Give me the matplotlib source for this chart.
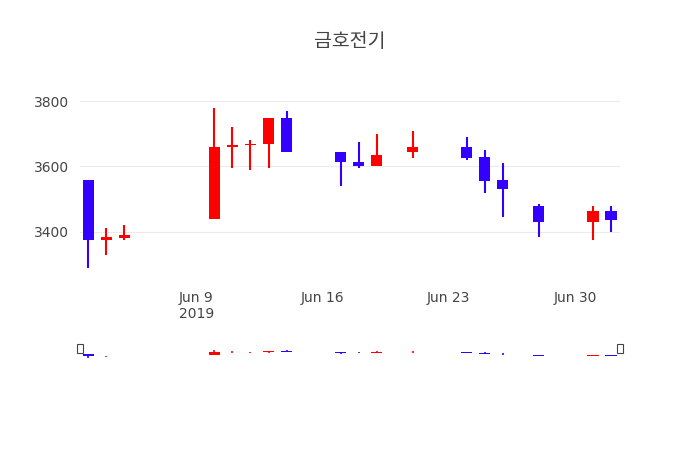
import matplotlib
matplotlib.use("Agg")
import matplotlib.pyplot as plt
import matplotlib.dates as mdates
import pandas as pd

dates = ["2019-06-03","2019-06-04","2019-06-05","2019-06-10","2019-06-11","2019-06-12",
         "2019-06-13","2019-06-14","2019-06-17","2019-06-18","2019-06-19","2019-06-21",
         "2019-06-24","2019-06-25","2019-06-26","2019-06-28","2019-07-01","2019-07-02"]
opens  = [3560,3375,3380,3440,3660,3665,3670,3750,3645,3615,3600,3645,3660,3630,3560,3480,3430,3465]
highs  = [3560,3410,3420,3780,3720,3680,3750,3770,3645,3675,3700,3710,3690,3650,3610,3485,3480,3480]
lows   = [3290,3330,3375,3440,3595,3590,3595,3645,3540,3595,3600,3625,3620,3520,3445,3385,3375,3400]
closes = [3375,3385,3390,3660,3665,3670,3750,3645,3615,3600,3635,3660,3625,3555,3530,3430,3465,3435]
title = "금호전기"
yticks = [3400, 3600, 3800]

UP, DOWN = "#ff0000", "#3300ff"
d = mdates.date2num(pd.to_datetime(dates))

fig = plt.figure(figsize=(7, 4.5), dpi=100)
ax = fig.add_axes([80/700, 170/450, 540/700, 200/450])
sl = fig.add_axes([80/700, 77/450, 540/700, 40/450])

def draw(a, wick_lw, body_w):
    for x, o, h, l, c in zip(d, opens, highs, lows, closes):
        col = UP if c >= o else DOWN
        a.vlines(x, l, h, color=col, lw=wick_lw, zorder=3)
        lo, hi = min(o, c), max(o, c)
        a.bar(x, max(hi - lo, 2), bottom=lo, width=body_w, color=col, zorder=3)

draw(ax, 1.5, 0.62)
draw(sl, 1.2, 0.62)

xmin = mdates.date2num(pd.Timestamp("2019-06-02 13:00"))
xmax = mdates.date2num(pd.Timestamp("2019-07-02 12:00"))
for a in (ax, sl):
    a.set_xlim(xmin, xmax)
    for s in a.spines.values():
        s.set_visible(False)

ax.set_ylim(3252, 3865)
ax.set_yticks(yticks)
ax.set_yticklabels([str(v) for v in yticks])
ticks = pd.to_datetime(["2019-06-09", "2019-06-16", "2019-06-23", "2019-06-30"])
ax.set_xticks(mdates.date2num(ticks))
ax.set_xticklabels(["Jun 9\n2019", "Jun 16", "Jun 23", "Jun 30"])
ax.grid(axis="y", color="#ebebeb", lw=0.8, zorder=0)
ax.tick_params(length=0, labelsize=10, colors="#444444", pad=8)
ax.set_axisbelow(True)

sl.set_ylim(2300, 4900)
sl.set_xticks([]); sl.set_yticks([])
for xx in (xmin, xmax):
    sl.add_patch(plt.Rectangle((xx - 0.15, 3580), 0.3, 600, facecolor="white",
                               edgecolor="#444444", lw=0.8, clip_on=False, zorder=5))

fig.text(0.5, 0.907, title, ha="center", va="center", fontsize=14,
         fontfamily="Noto Sans CJK KR", color="#444444")
fig.savefig("out.png", dpi=100)
